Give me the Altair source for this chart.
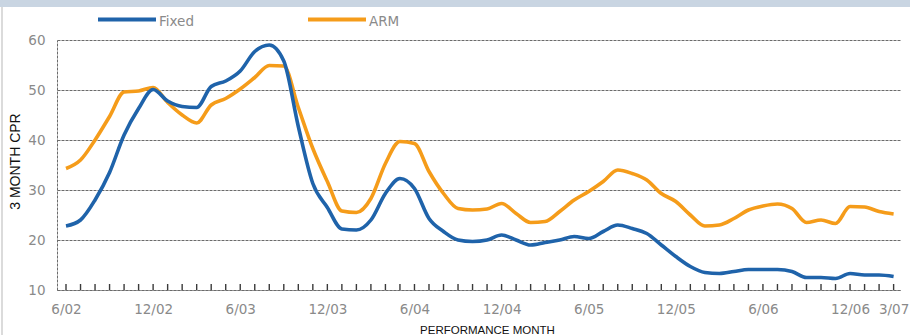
import altair as alt
import pandas as pd

# Month index 0 = June 2002, 57 = March 2007
TICK_MONTHS = [0, 6, 12, 18, 24, 30, 36, 42, 48, 54, 57]
TICK_LABELS = ["6/02", "12/02", "6/03", "12/03", "6/04", "12/04",
               "6/05", "12/05", "6/06", "12/06", "3/07"]

FIXED = [22.8, 24.0, 28.0, 33.5, 41.0, 46.3, 50.1, 47.8, 46.7, 46.5,
         50.7, 51.8, 53.8, 57.7, 59.0, 55.8, 42.7, 31.3, 26.5, 22.2,
         22.0, 24.0, 29.3, 32.3, 30.3, 24.3, 21.7, 20.0, 19.7, 20.0,
         21.0, 20.0, 19.0, 19.5, 20.0, 20.7, 20.3, 21.7, 23.0, 22.3,
         21.3, 19.0, 16.7, 14.7, 13.5, 13.3, 13.7, 14.1, 14.1, 14.1,
         13.7, 12.5, 12.5, 12.3, 13.3, 13.0, 13.0, 12.7]

ARM = [34.3, 36.0, 40.0, 44.7, 49.6, 49.8, 50.5, 47.5, 45.0, 43.4,
       47.0, 48.3, 50.2, 52.5, 54.9, 54.8, 46.5, 38.3, 31.7, 25.8,
       25.5, 28.3, 35.3, 39.7, 39.3, 33.7, 29.3, 26.3, 26.0, 26.2,
       27.3, 25.3, 23.5, 23.7, 25.7, 28.0, 29.7, 31.7, 34.0, 33.3,
       32.0, 29.3, 27.7, 25.0, 22.8, 23.0, 24.3, 26.0, 26.8, 27.2,
       26.3, 23.5, 24.0, 23.3, 26.7, 26.6, 25.7, 25.2]

SERIES = ["Fixed", "ARM"]
COLORS = ["#1f63aa", "#f59c1a"]
Y_TICKS = [10, 20, 30, 40, 50, 60]

# layout (pixels)
PAD_L, PAD_T, PAD_R, PAD_B = 57, 40, 10, 45
W, H = 910 - PAD_L - PAD_R, 335 - PAD_T - PAD_B
FONT = "DejaVu Sans"
GRID = "#6b6b6b"

n = len(FIXED)
months = list(range(n))
df = pd.concat([
    pd.DataFrame({"month": months, "cpr": ARM, "series": "ARM"}),
    pd.DataFrame({"month": months, "cpr": FIXED, "series": "Fixed"}),
])

label_arr = "[" + ",".join(f"'{s}'" for s in TICK_LABELS) + "]"
pos_arr = "[" + ",".join(str(m) for m in TICK_MONTHS) + "]"
label_expr = f"{label_arr}[indexof({pos_arr}, datum.value)]"

x_scale = alt.Scale(domain=[-0.62, 57.44], nice=False, zero=False)
y_scale = alt.Scale(domain=[10, 60], nice=False, zero=False)
color_scale = alt.Scale(domain=SERIES, range=COLORS)

x_axis = alt.Axis(
    values=TICK_MONTHS, labelExpr=label_expr, grid=False, ticks=False,
    domainColor=GRID, domainDash=[3, 1], domainWidth=1,
    labelFont=FONT, labelFontSize=13.5, labelColor="#8a8a8a",
    labelPadding=12, labelOverlap=False, labelBound=False,
    title="PERFORMANCE MONTH", titleFont="Liberation Sans",
    titleFontSize=11.5, titleFontWeight="normal", titleColor="#111",
    titleX=430, titleY=43, titleBaseline="alphabetic", titleAlign="center",
)
y_axis = alt.Axis(
    values=Y_TICKS, grid=True, gridColor=GRID, gridDash=[3, 1], gridWidth=1,
    ticks=False, domainColor=GRID, domainDash=[3, 1], domainWidth=1,
    labelFont=FONT, labelFontSize=13.5, labelColor="#8a8a8a",
    labelPadding=12, labelBaseline="middle",
    title="3 MONTH CPR", titleFont="Liberation Sans", titleFontSize=14,
    titleFontWeight="normal", titleColor="#111", titleAngle=270,
    titleX=-42, titleY=H / 2 - 4, titleBaseline="middle", titleAlign="center",
)

lines = alt.Chart(df).mark_line(strokeWidth=3.6, interpolate="monotone").encode(
    x=alt.X("month:Q", scale=x_scale, axis=x_axis),
    y=alt.Y("cpr:Q", scale=y_scale, axis=y_axis),
    color=alt.Color("series:N", scale=color_scale, legend=None),
    order=alt.Order("month:Q"),
)

# small monthly tick marks rising from the bottom axis
tick_df = pd.DataFrame({"month": months})
minor_ticks = alt.Chart(tick_df).mark_rule(
    stroke="#3a3a3a", strokeWidth=1.4
).encode(
    x=alt.X("month:Q", scale=x_scale, axis=x_axis),
    y=alt.value(H - 6),
    y2=alt.value(H),
)

# legend drawn above the plot
leg_df = pd.DataFrame({
    "series": SERIES,
    "x0": [98 - PAD_L, 308 - PAD_L],
})
leg_df["x1"] = leg_df["x0"] + 58
leg_df["tx"] = leg_df["x1"] + 3

leg_lines = alt.Chart(leg_df).mark_rule(strokeWidth=4).encode(
    x=alt.X("x0:Q", scale=None),
    x2="x1:Q",
    y=alt.value(19.5 - PAD_T),
    color=alt.Color("series:N", scale=color_scale, legend=None),
)
leg_text = alt.Chart(leg_df).mark_text(
    align="left", baseline="middle", font=FONT, fontSize=13.5, color="#8a8a8a"
).encode(
    x=alt.X("tx:Q", scale=None),
    y=alt.value(21.5 - PAD_T),
    text="series:N",
)

# frame: tinted band on top and thin border on the left
one = pd.DataFrame({"k": [0]})
top_band = alt.Chart(one).mark_rect(color="#c9d5e2").encode(
    x=alt.value(-PAD_L), x2=alt.value(W + PAD_R),
    y=alt.value(-PAD_T), y2=alt.value(7 - PAD_T),
)
left_edge = alt.Chart(one).mark_rule(color="#cfcfcf", strokeWidth=1.5).encode(
    x=alt.value(2 - PAD_L), y=alt.value(7 - PAD_T), y2=alt.value(H + PAD_B),
)

chart = alt.layer(
    top_band, left_edge, minor_ticks, lines, leg_lines, leg_text
).properties(
    width=W, height=H,
    padding={"left": PAD_L, "top": PAD_T, "right": PAD_R, "bottom": PAD_B},
    autosize=alt.AutoSizeParams(type="none"),
    background="white",
).configure_view(stroke=None)

chart.save("out.html", embed_options={"renderer": "svg", "actions": False})
